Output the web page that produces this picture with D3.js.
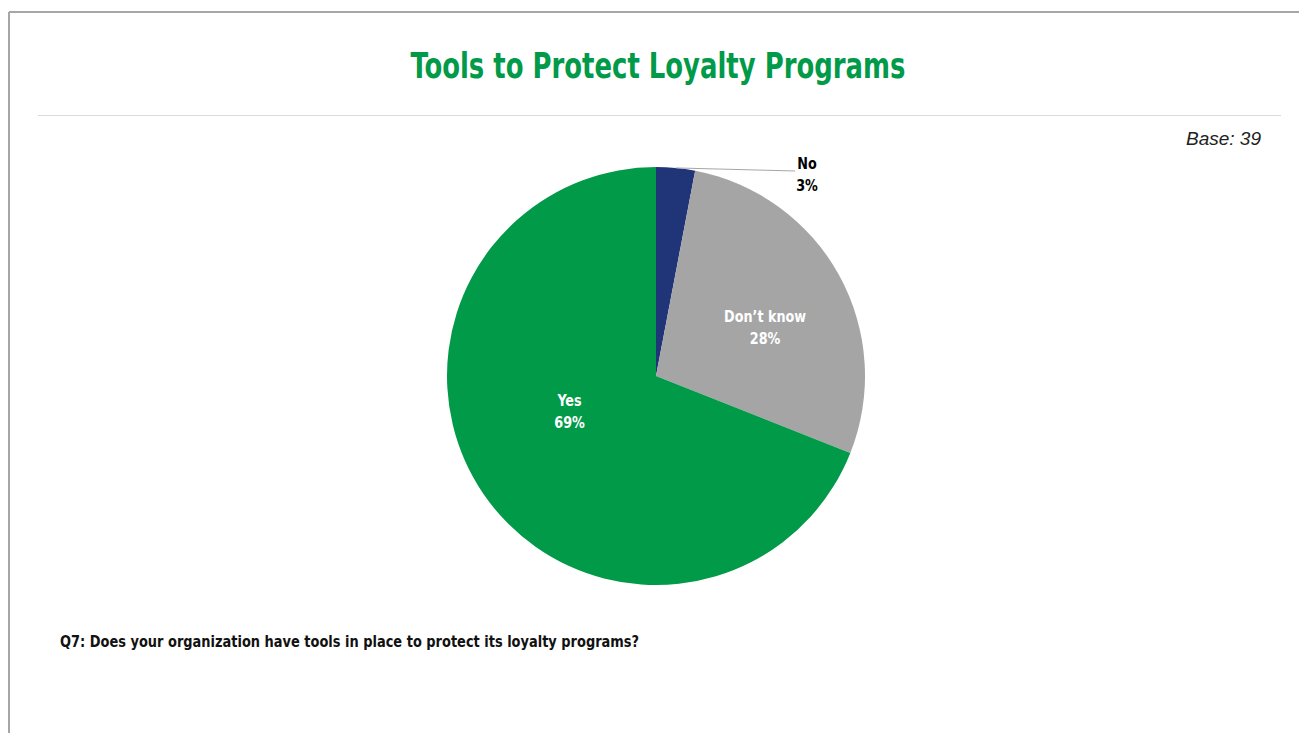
<!DOCTYPE html>
<html>
<head>
<meta charset="utf-8">
<script src="https://cdn.jsdelivr.net/npm/d3@7"></script>
<style>
  html, body { margin: 0; padding: 0; background: #fff; }
  svg { display: block; }
  .narrow { font-family: "Liberation Sans Narrow", "DejaVu Sans Condensed", "Arial Narrow", sans-serif; font-weight: bold; }
</style>
</head>
<body>
<svg id="chart" width="1299" height="733"></svg>
<script>
// Survey answers (share of respondents, %)
const categories = ["No", "Don\u2019t know", "Yes"];
const shares = [3, 28, 69];
const sliceColors = ["#1f3578", "#a5a5a5", "#009a49"];
const baseCount = 39;

const titleText = "Tools to Protect Loyalty Programs";
const questionText = "Q7: Does your organization have tools in place to protect its loyalty programs?";

const W = 1299, H = 733;
const svg = d3.select("#chart");

// squeeze text horizontally to get a narrow bold face
function narrow(sel, factor) {
  sel.each(function () {
    const len = this.getComputedTextLength();
    d3.select(this).attr("textLength", len * factor).attr("lengthAdjust", "spacingAndGlyphs");
  });
  return sel;
}

// frame: top and left rules
svg.append("line").attr("x1", 9).attr("y1", 12).attr("x2", W).attr("y2", 12)
  .attr("stroke", "#a6a6a6").attr("stroke-width", 2);
svg.append("line").attr("x1", 9).attr("y1", 12).attr("x2", 9).attr("y2", H)
  .attr("stroke", "#a6a6a6").attr("stroke-width", 2);

// title and separator
narrow(svg.append("text").attr("class", "narrow")
  .attr("x", 658).attr("y", 78).attr("text-anchor", "middle")
  .attr("font-size", 36).attr("fill", "#009a49").text(titleText), 0.80);
svg.append("line").attr("x1", 38).attr("y1", 115.5).attr("x2", 1281).attr("y2", 115.5)
  .attr("stroke", "#d9d9d9").attr("stroke-width", 1);

svg.append("text")
  .attr("x", 1261).attr("y", 145).attr("text-anchor", "end")
  .attr("font-family", "'Liberation Sans', Arial, sans-serif")
  .attr("font-style", "italic").attr("font-size", 19).attr("fill", "#222")
  .text("Base: " + baseCount);

// pie
const cx = 656, cy = 376, R = 209;
const data = categories.map((c, i) => ({ name: c, value: shares[i], color: sliceColors[i] }));
const pie = d3.pie().value(d => d.value).sort(null);
const arcs = pie(data);
const arc = d3.arc().innerRadius(0).outerRadius(R);

const g = svg.append("g").attr("transform", `translate(${cx},${cy})`);
g.selectAll("path.slice").data(arcs).join("path")
  .attr("class", "slice")
  .attr("d", arc)
  .attr("fill", d => d.data.color);

// label placement: inside labels sit at a fraction of the radius, with a small angular shift
const inside = {
  "Don\u2019t know": { r: 0.575, shift: 4 },
  "Yes": { r: 0.445, shift: 12.6 }
};
const deg = Math.PI / 180;

function labelLines(x, y, lines, fill) {
  lines.forEach((l, i) => {
    narrow(g.append("text").attr("class", "narrow")
      .attr("text-anchor", "middle").attr("font-size", 16.5).attr("fill", fill)
      .attr("x", x).attr("y", y + i * 22).text(l), 0.86);
  });
}

arcs.forEach(a => {
  const mid = (a.startAngle + a.endAngle) / 2;
  const lines = [a.data.name, a.data.value + "%"];
  if (inside[a.data.name]) {
    const p = inside[a.data.name];
    const ang = mid + p.shift * deg;
    const x = Math.sin(ang) * R * p.r, y = -Math.cos(ang) * R * p.r;
    labelLines(x, y - 4, lines, "#fff");
  } else {
    // outside label with leader line
    const x0 = Math.sin(mid) * R, y0 = -Math.cos(mid) * R;
    const lx = 139, ly = -205;
    g.append("line").attr("x1", x0).attr("y1", y0).attr("x2", lx).attr("y2", ly)
      .attr("stroke", "#a6a6a6").attr("stroke-width", 1);
    labelLines(lx + 12, ly - 2, lines, "#000");
  }
});

// question footnote
narrow(svg.append("text").attr("class", "narrow")
  .attr("x", 60).attr("y", 647).attr("font-size", 15.5).attr("fill", "#111")
  .text(questionText), 0.93);
</script>
</body>
</html>
